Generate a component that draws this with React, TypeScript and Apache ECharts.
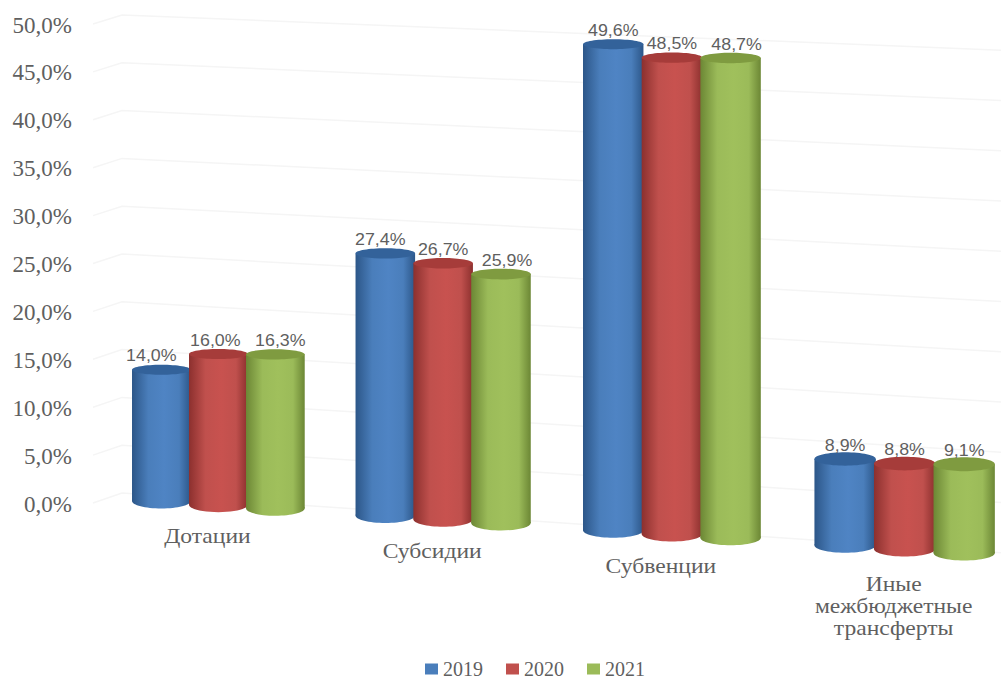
import React, { useEffect, useRef } from "react";
import * as echarts from "echarts";

// Shares of inter-budget transfers by type and year, percent
const categories = ["Дотации", "Субсидии", "Субвенции", "Иные\nмежбюджетные\nтрансферты"];
const years = ["2019", "2020", "2021"];
const values2019 = [14.0, 27.4, 49.6, 8.9];
const values2020 = [16.0, 26.7, 48.5, 8.8];
const values2021 = [16.3, 25.9, 48.7, 9.1];
const gridTicks = [0, 5, 10, 15, 20, 25, 30, 35, 40, 45, 50];

const seriesValues = [values2019, values2020, values2021];

// Cylinder shading per series: edge, body, lit centre, cap
const palette = [
  { flat: "#4a7ebb", edge: "#2c5688", mid: "#4f84c4", cap: "#33629a" },
  { flat: "#c0504d", edge: "#8c302e", mid: "#c8524f", cap: "#a63c3a" },
  { flat: "#9bbb59", edge: "#6c8735", mid: "#a0c05c", cap: "#7f9b40" },
];

const AXIS_ZERO_Y = 504;
const AXIS_SCALE = 9.58;
const TEXT_GREY = "#5f5f5f";
const SERIF = "'Liberation Serif', serif";
const SANS = "'Liberation Sans', sans-serif";

// Perspective of the tilted floor and wall, in screen pixels
const bendX = (x: number) => -(x - 218) * (904 - x) * 3.8e-5;
const floorY = (x: number) => 501 + 0.0648 * (x - 162);
const heightScale = (x: number, val: number) =>
  (9.3 + 0.0005 * (x - 162) + 0.0055 * val) / AXIS_SCALE;
const spacingAt = (x: number) => 57 + 0.0037 * (x - 218);

// Small sideways shifts that keep the value labels clear of each other
const labelShift = [
  [-10, -5, 0, 0],
  [-3, 0, 0, 0],
  [5, 6, 6, 0],
];

const cylinder = (seriesIndex: number) => (params: any, api: any) => {
  const cat = api.value(0);
  const val = api.value(1);
  const [bandX, axisY] = api.coord([cat, val]);
  const centreX = bandX + bendX(bandX);
  const spacing = spacingAt(centreX);
  const x = centreX + (seriesIndex - 1) * spacing;
  const rx = (spacing * 1.03) / 2;
  const bottom = floorY(x);
  const top = bottom - (AXIS_ZERO_Y - axisY) * heightScale(x, val);
  const ryTop = 5 + 0.0022 * (x - 162) - 0.03 * (val - 14);
  const ryBottom = 7.5;
  const p = palette[seriesIndex];
  const body = new echarts.graphic.LinearGradient(0, 0, 1, 0, [
    { offset: 0, color: p.edge },
    { offset: 0.28, color: p.flat },
    { offset: 0.55, color: p.mid },
    { offset: 0.8, color: p.flat },
    { offset: 1, color: p.edge },
  ]);
  const text = val.toFixed(1).replace(".", ",") + "%";
  return {
    type: "group",
    children: [
      { type: "ellipse", shape: { cx: x, cy: bottom, rx, ry: ryBottom }, style: { fill: body } },
      { type: "rect", shape: { x: x - rx, y: top, width: rx * 2, height: bottom - top }, style: { fill: body } },
      { type: "ellipse", shape: { cx: x, cy: top, rx, ry: ryTop }, style: { fill: p.cap } },
      {
        type: "text",
        z2: 100,
        x: x + labelShift[seriesIndex][cat],
        y: top - 14,
        scaleX: 1.08,
        style: {
          text,
          align: "center",
          verticalAlign: "middle",
          fontFamily: SANS,
          fontSize: 16.5,
          fill: TEXT_GREY,
        },
      },
    ],
  };
};

// Faint wall lines: a short stub from the axis, then the long receding run
const wallLine = (params: any, api: any) => {
  const val = api.value(0);
  const axisY = api.coord([0, val])[1];
  const t = val / 50;
  const kneeY = 493 + (15 - 493) * t;
  const slope = 0.068 + (0.04 - 0.068) * t;
  return {
    type: "polyline",
    silent: true,
    shape: {
      points: [
        [93, axisY - 1],
        [122, kneeY],
        [1001, kneeY + slope * (1001 - 122)],
      ],
    },
    style: { fill: "none", stroke: "#f5f5f5", lineWidth: 1.5 },
  };
};

const categoryLabel = (params: any, api: any) => {
  const cat = api.value(0);
  const bandX = api.coord([cat, 0])[0];
  const x = bandX + bendX(bandX) - 11;
  return {
    type: "text",
    x,
    y: floorY(x) + 22 + (cat === 3 ? 3 : 0),
    scaleX: 1.18,
    style: {
      text: categories[cat],
      align: "center",
      verticalAlign: "top",
      fontFamily: SERIF,
      fontSize: 20,
      lineHeight: 22,
      fill: TEXT_GREY,
    },
  };
};

export default function App() {
  const ref = useRef<HTMLDivElement>(null);

  useEffect(() => {
    const chart = echarts.init(ref.current!, null, { renderer: "svg" });
    chart.setOption({
      animation: false,
      backgroundColor: "#ffffff",
      legend: {
        left: 420,
        top: 654,
        itemWidth: 13,
        itemHeight: 11,
        itemGap: 23,
        icon: "rect",
        textStyle: { fontFamily: SERIF, fontSize: 20, lineHeight: 14, color: TEXT_GREY },
        data: years.map((name, i) => ({ name, itemStyle: { color: palette[i].flat } })),
      },
      grid: { left: 104, top: 25, width: 915, height: 479, outerBoundsMode: "none" },
      xAxis: { type: "category", data: categories, show: false },
      yAxis: {
        type: "value",
        min: 0,
        max: 50,
        interval: 5,
        axisLine: { show: false },
        axisTick: { show: false },
        splitLine: { show: false },
        axisLabel: {
          margin: 32,
          fontFamily: SERIF,
          fontSize: 23,
          color: TEXT_GREY,
          formatter: (v: number) => v.toFixed(1).replace(".", ",") + "%",
        },
      },
      series: [
        {
          type: "custom",
          name: "wall",
          renderItem: wallLine,
          data: gridTicks.map((t) => [t]),
          encode: { y: 0 },
          z: 1,
        },
        {
          type: "custom",
          name: "labels",
          renderItem: categoryLabel,
          data: categories.map((_, i) => [i]),
          encode: { x: 0 },
          z: 1,
        },
        ...years.map((name, s) => ({
          type: "custom",
          name,
          renderItem: cylinder(s),
          itemStyle: { color: palette[s].flat },
          data: seriesValues[s].map((v, i) => [i, v]),
          encode: { x: 0, y: 1 },
          z: 2,
        })),
      ],
    });
    return () => chart.dispose();
  }, []);

  return (
    <div
      ref={ref}
      style={{ position: "absolute", left: 0, top: 0, width: 1001, height: 680 }}
    />
  );
}
